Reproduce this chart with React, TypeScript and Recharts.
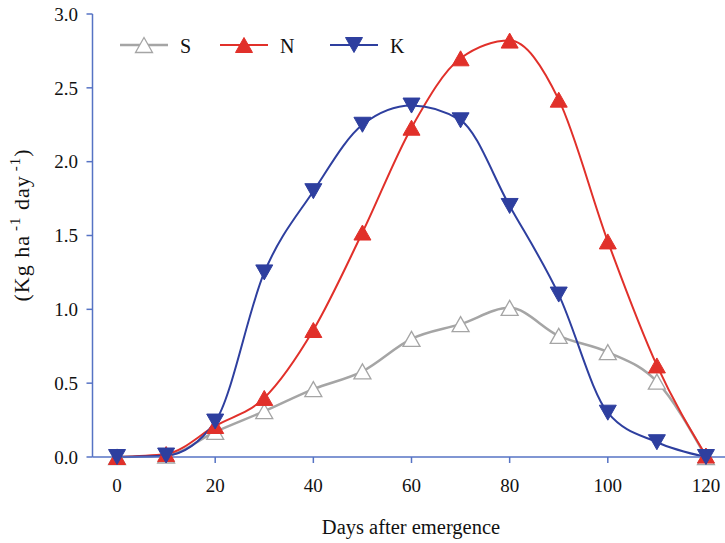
import React from "react";
import { LineChart, Line, XAxis, YAxis, Legend } from "recharts";

// Days after emergence
const days = [0, 10, 20, 30, 40, 50, 60, 70, 80, 90, 100, 110, 120];

// Daily uptake rates (Kg ha-1 day-1)
const sulfur = [0, 0.01, 0.17, 0.31, 0.46, 0.58, 0.8, 0.9, 1.01, 0.82, 0.71, 0.51, 0];
const nitrogen = [0, 0.02, 0.21, 0.4, 0.86, 1.52, 2.23, 2.7, 2.82, 2.42, 1.46, 0.62, 0.01];
const potassium = [0, 0.01, 0.24, 1.25, 1.8, 2.25, 2.38, 2.28, 1.7, 1.1, 0.3, 0.1, 0];

const xTicks = [0, 20, 40, 60, 80, 100, 120];
const yTicks = [0, 0.5, 1, 1.5, 2, 2.5, 3];

const data = days.map((d, i) => ({
  day: d,
  S: sulfur[i],
  N: nitrogen[i],
  K: potassium[i],
}));

const AXIS = "#5673c4";
const GRAY = "#a5a5a5";
const RED = "#e1302a";
const BLUE = "#2e3f9f";
const FONT = "'Liberation Serif', 'Times New Roman', serif";

type TriProps = { cx: number; cy: number; up: boolean; fill: string; stroke: string; sw?: number };

function Tri({ cx, cy, up, fill, stroke, sw = 1 }: TriProps) {
  const hw = 8.5;
  const hh = 7.5;
  const pts = up
    ? `${cx},${cy - hh} ${cx - hw},${cy + hh} ${cx + hw},${cy + hh}`
    : `${cx},${cy + hh} ${cx - hw},${cy - hh} ${cx + hw},${cy - hh}`;
  return <polygon points={pts} fill={fill} stroke={stroke} strokeWidth={sw} strokeLinejoin="miter" />;
}

const makeDot = (up: boolean, fill: string, stroke: string, sw?: number) => (props: any) => {
  const { cx, cy, index } = props;
  if (cx == null || cy == null) return <g key={`d-${index}`} />;
  return (
    <g key={`d-${index}`}>
      <Tri cx={cx} cy={cy} up={up} fill={fill} stroke={stroke} sw={sw} />
    </g>
  );
};

const legendItems = [
  { name: "S", color: GRAY, up: true, fill: "#ffffff", stroke: GRAY, sw: 1.3, x: 12 },
  { name: "N", color: RED, up: true, fill: RED, stroke: RED, sw: 1, x: 112 },
  { name: "K", color: BLUE, up: false, fill: BLUE, stroke: BLUE, sw: 1, x: 222 },
];

function LegendBox() {
  return (
    <svg width={320} height={30} style={{ display: "block", overflow: "visible" }}>
      {legendItems.map((it) => (
        <g key={it.name}>
          <line x1={it.x} x2={it.x + 48} y1={12} y2={12} stroke={it.color} strokeWidth={it.name === "S" ? 2.5 : 2} />
          <Tri cx={it.x + 24} cy={12} up={it.up} fill={it.fill} stroke={it.stroke} sw={it.sw} />
          <text x={it.x + 60} y={20} fontFamily={FONT} fontSize={20} fill="#111">
            {it.name}
          </text>
        </g>
      ))}
    </svg>
  );
}

function YLabel() {
  return (
    <text
      x={29}
      y={225}
      transform="rotate(-90, 29, 225)"
      textAnchor="middle"
      fontFamily={FONT}
      fontSize={22}
      letterSpacing={1}
      fill="#111"
    >
      (Kg ha
      <tspan dx={4} dy={-9} fontSize={15}>-1</tspan>
      <tspan dy={9}> day</tspan>
      <tspan dx={4} dy={-9} fontSize={15}>-1</tspan>
      <tspan dy={9}>)</tspan>
    </text>
  );
}

function XLabel() {
  return (
    <text x={411} y={534} textAnchor="middle" fontFamily={FONT} fontSize={20.5} fill="#111">
      Days after emergence
    </text>
  );
}

export default function App() {
  const tickStyle = { fontFamily: FONT, fontSize: 19, fill: "#111" };
  return (
    <div
      style={{
        position: "fixed",
        left: 0,
        top: 0,
        width: 725,
        height: 543,
        overflow: "hidden",
        background: "#fff",
      }}
    >
      <LineChart
        width={745}
        height={543}
        data={data}
        margin={{ top: 14, right: 14.5, left: 0, bottom: 0 }}
      >
        <XAxis
          dataKey="day"
          type="number"
          domain={[-5, 125]}
          ticks={xTicks}
          height={86}
          axisLine={{ stroke: AXIS, strokeWidth: 1.5 }}
          tickLine={{ stroke: AXIS, strokeWidth: 1.5 }}
          tickSize={6}
          tickMargin={16}
          tick={tickStyle}
          interval={0}
          label={{ content: () => <XLabel /> }}
        />
        <XAxis
          xAxisId="top"
          orientation="top"
          dataKey="day"
          type="number"
          domain={[-5, 125]}
          height={0}
          tick={false}
          tickLine={false}
          axisLine={{ stroke: AXIS, strokeWidth: 1.5 }}
        />
        <YAxis
          type="number"
          domain={[0, 3]}
          ticks={yTicks}
          width={92.5}
          axisLine={{ stroke: AXIS, strokeWidth: 1.5 }}
          tickLine={{ stroke: AXIS, strokeWidth: 1.5 }}
          tickSize={6}
          tickMargin={8.5}
          tick={tickStyle}
          interval={0}
          tickFormatter={(v: number) => v.toFixed(1)}
          label={{ content: () => <YLabel /> }}
        />
        <Legend
          layout="horizontal"
          verticalAlign="middle"
          align="center"
          content={() => <LegendBox />}
          wrapperStyle={{ position: "absolute", left: 108, top: 33, width: 320, height: 30 }}
        />
        <Line
          type="monotone"
          dataKey="S"
          stroke={GRAY}
          strokeWidth={2.5}
          dot={makeDot(true, "#ffffff", GRAY, 1.3)}
          activeDot={false}
          isAnimationActive={false}
        />
        <Line
          type="monotone"
          dataKey="N"
          stroke={RED}
          strokeWidth={2}
          dot={makeDot(true, RED, RED)}
          activeDot={false}
          isAnimationActive={false}
        />
        <Line
          type="monotone"
          dataKey="K"
          stroke={BLUE}
          strokeWidth={2}
          dot={makeDot(false, BLUE, BLUE)}
          activeDot={false}
          isAnimationActive={false}
        />
      </LineChart>
    </div>
  );
}
